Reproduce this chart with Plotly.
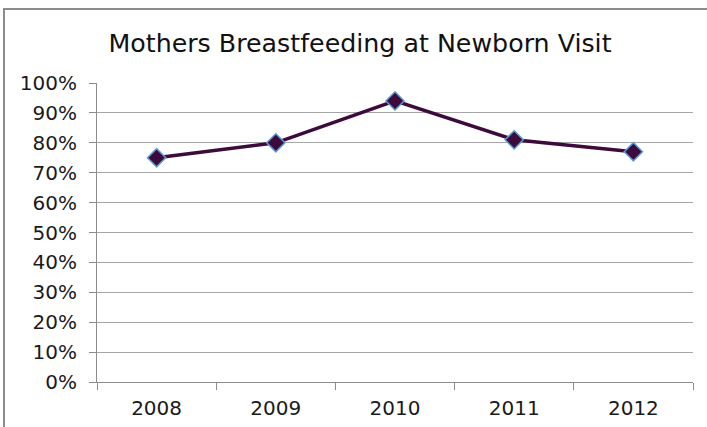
import plotly.graph_objects as go

years = ["2008", "2009", "2010", "2011", "2012"]
pct_breastfeeding = [0.75, 0.80, 0.94, 0.81, 0.77]

W, H = 707, 427
L, R, T, B = 97, 14, 83, 45
pw, ph = W - L - R, H - T - B


def px_x(x):
    return (x - L) / pw


def px_y(y):
    return (H - B - y) / ph


fig = go.Figure(go.Scatter(
    x=years,
    y=pct_breastfeeding,
    mode="lines+markers",
    line=dict(color="#3d0b3b", width=3.5),
    marker=dict(symbol="diamond", size=14, color="#3d0b3b",
                line=dict(color="#5b9bd5", width=1.5)),
    showlegend=False,
))

fig.update_layout(
    width=W, height=H,
    margin=dict(l=L, r=R, t=T, b=B),
    paper_bgcolor="white",
    plot_bgcolor="white",
    font=dict(family="DejaVu Sans, sans-serif", color="#1a1a1a"),
    title=dict(text="Mothers Breastfeeding at Newborn Visit",
               x=px_x(360), xref="paper", xanchor="center",
               y=1 - 43 / H, yanchor="middle",
               font=dict(family="DejaVu Sans, sans-serif",
                         size=25.3, color="#111111")),
    shapes=[dict(type="rect", xref="paper", yref="paper",
                 x0=px_x(4), x1=px_x(712), y0=px_y(432), y1=px_y(9),
                 line=dict(color="#8c8c8c", width=2), layer="below")],
)

fig.update_xaxes(
    type="category",
    range=[-0.5, len(years) - 0.5],
    tickson="boundaries",
    ticks="outside", ticklen=7, tickcolor="#8c8c8c",
    showline=True, linecolor="#8c8c8c", linewidth=1,
    showgrid=False,
    ticklabelstandoff=8,
    automargin=False,
    tickfont=dict(size=20),
)

fig.update_yaxes(
    range=[0, 1], dtick=0.1, tickformat=".0%",
    ticks="outside", ticklen=7, tickcolor="#8c8c8c",
    showline=True, linecolor="#8c8c8c", linewidth=1,
    showgrid=True, gridcolor="#a6a6a6", gridwidth=1,
    zeroline=False,
    ticklabelstandoff=8,
    automargin=False,
    tickfont=dict(size=20),
)

# the page has a default body margin; drop it so the chart sits at 0,0
fig.write_html("out.html", config={"displayModeBar": False},
               post_script="document.body.style.margin='0';")
